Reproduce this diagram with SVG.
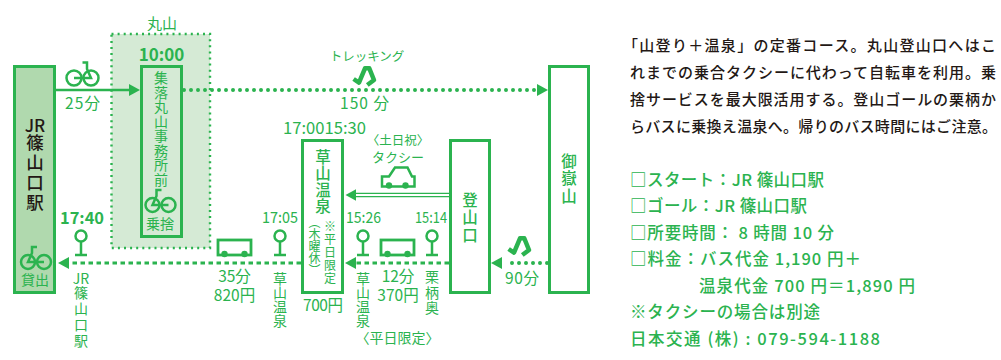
<svg xmlns="http://www.w3.org/2000/svg" width="1001" height="360" viewBox="0 0 1001 360">
<style>
text{font-family:"Noto Sans CJK JP","Noto Sans",sans-serif;fill:#2bb34f}
.c{text-anchor:middle}
.t{font-size:15.5px}
.s13{font-size:13px}
.b{font-weight:700}
.v{writing-mode:vertical-rl;text-orientation:mixed}
.vl{writing-mode:vertical-rl;font-size:14px}
.vk{writing-mode:vertical-rl;font-size:17.5px;letter-spacing:2.5px;fill:#231815;font-weight:500}
.vb{writing-mode:vertical-rl;font-size:15.5px;font-weight:500}
.k{fill:#231815;font-size:15px;font-weight:500}
.g{font-size:16.5px;font-weight:500}
.ln{fill:none;stroke:#2bb34f;stroke-width:2.500}
.dot{fill:none;stroke:#2bb34f;stroke-width:4;stroke-linecap:round;stroke-dasharray:0 7}
.dash{fill:none;stroke:#2bb34f;stroke-width:3;stroke-dasharray:4.500 3.500}
.ic{fill:none;stroke:#2bb34f;stroke-width:2.500}
.head{fill:#2bb34f}
</style>
<defs>
<g id="bike" class="ic"><circle cx="-8.500" cy="0" r="7.500"/><circle cx="8.500" cy="0" r="7.500"/><path d="M-8.500 0H8.500L4.500-9V-15.500H0"/></g>
<g id="bikeL" class="ic"><circle cx="-8" cy="0" r="7"/><circle cx="8" cy="0" r="7"/><path d="M8 0H-8L-4-9V-15H1"/></g>
<g id="stop" class="ic"><circle cx="0" cy="-8" r="5.500"/><path d="M0-2.500V11M-6 11H6"/></g>
<g id="bus"><rect x="-16.500" y="-15" width="33" height="15" fill="none" stroke="#2bb34f" stroke-width="2.800"/><circle cx="-10" cy="-1" r="3.200" fill="#2bb34f"/><circle cx="10" cy="-1" r="3.200" fill="#2bb34f"/></g>
<path id="walk" d="M-11.400 3L-6 6.600L0-7.700H4.300L9 4L2.300 9" fill="none" stroke="#2bb34f" stroke-width="4.500" stroke-linejoin="round"/>
</defs>

<g id="node-maruyama-area">
<rect x="111.500" y="34" width="98.500" height="214" fill="#d5ead5" stroke="#2bb34f" stroke-width="2.400" stroke-dasharray="2 4.100"/>
<text class="c" x="162" y="29" font-size="15">丸山</text>
<text class="c b" x="161.500" y="61" font-size="17">10:00</text>
</g>

<g id="connectors">
<path class="ln" d="M55 90H131"/>
<path class="head" d="M129 84L140 90L129 96Z"/>
<path class="dot" d="M184 90H538"/>
<path class="head" d="M537 84L548 90L537 96Z"/>
<path class="head" d="M356 189.300L345.500 195L356 200.700Z"/>
<path d="M355 193.300H449M355 196.700H449" fill="none" stroke="#2bb34f" stroke-width="1.300"/>
<path class="dot" d="M547 263H507"/>
<path class="head" d="M502 257L491 263L502 269Z"/>
<path class="dash" d="M449 263H352"/>
<path class="head" d="M356 257L345 263L356 269Z"/>
<path class="dash" d="M301 263H65"/>
<path class="head" d="M69 257L58 263L69 269Z"/>
</g>

<g id="node-jr">
<rect x="14.500" y="66.500" width="40" height="226" fill="#b0d9ae" stroke="#2bb34f" stroke-width="3"/>
<text class="c" x="35" y="132" font-size="17" font-weight="500" style="fill:#231815">JR</text>
<text class="vk" x="35" y="134">篠山口駅</text>
<use href="#bikeL" x="36" y="262"/>
<text class="c" x="35" y="285" font-size="14">貸出</text>
</g>

<g id="node-shuraku">
<rect x="141.500" y="66.500" width="40" height="170" fill="#d5ead5" stroke="#2bb34f" stroke-width="3"/>
<text class="v" x="161" y="71" font-size="14" letter-spacing=".5">集落丸山事務所前</text>
<use href="#bikeL" x="160.500" y="205"/>
<text class="c" x="160" y="229" font-size="14">乗捨</text>
</g>

<g id="node-kusayama">
<rect x="302.500" y="140.500" width="40" height="152" fill="#fff" stroke="#2bb34f" stroke-width="3"/>
<text class="vb" x="323" y="149" letter-spacing="1">草山温泉</text>
<text class="v" x="314.500" y="216" font-size="12">（木曜休）</text>
<text class="v" x="330" y="220" font-size="12" letter-spacing="1">※平日限定</text>
</g>

<g id="node-tozanguchi">
<rect x="450.500" y="140.500" width="39" height="152" fill="#fff" stroke="#2bb34f" stroke-width="3"/>
<text class="vb" x="470" y="192" letter-spacing="2">登山口</text>
</g>

<g id="node-mitake">
<rect x="549.500" y="66.500" width="39" height="226" fill="#fff" stroke="#2bb34f" stroke-width="3"/>
<text class="vb" x="569" y="153" letter-spacing="2">御嶽山</text>
</g>

<g id="labels">
<use href="#bike" x="82.500" y="78"/>
<text class="t" x="65" y="109" textLength="35">25分</text>
<text class="c" x="367" y="61" font-size="12.500">トレッキング</text>
<use href="#walk" x="365" y="76"/>
<text class="t" x="340" y="109" textLength="49">150 分</text>
<text x="283" y="134" font-size="16.500" textLength="83" lengthAdjust="spacingAndGlyphs">17:0015:30</text>
<text class="c" x="398" y="145" font-size="12.500">〈土日祝〉</text>
<text class="c" x="398" y="162" font-size="13">タクシー</text>
<path d="M382 186.500V176.500H389L395 167.500H407.500L412 176.500H414.500V186.500Z" fill="#fff" stroke="#2bb34f" stroke-width="2.500"/>
<circle cx="389" cy="185.500" r="3.200" class="head"/><circle cx="405.500" cy="185.500" r="3.200" class="head"/>
<use href="#stop" x="81" y="244"/>
<text class="b" x="60" y="224" font-size="16" textLength="44" lengthAdjust="spacingAndGlyphs">17:40</text>
<text class="c" x="81" y="284" font-size="14">JR</text>
<text class="vl" x="81" y="286" letter-spacing="2">篠山口駅</text>
<use href="#bus" x="234.500" y="255"/>
<text class="t c" x="234.500" y="282" font-size="15.500">35分<tspan x="234.500" dy="19">820円</tspan></text>
<text x="262" y="223" font-size="15.500" textLength="36" lengthAdjust="spacingAndGlyphs">17:05</text>
<use href="#stop" x="280" y="244"/>
<text class="vl" x="280" y="271.500">草山温泉</text>
<text x="346" y="223" font-size="15.500" textLength="35" lengthAdjust="spacingAndGlyphs">15:26</text>
<use href="#stop" x="363" y="244"/>
<text class="vl" x="363" y="271.500">草山温泉</text>
<use href="#bus" x="397.500" y="255"/>
<text class="t c" x="398" y="282">12分<tspan x="398" dy="19">370円</tspan></text>
<text x="415" y="223" font-size="15.500" textLength="32" lengthAdjust="spacingAndGlyphs">15:14</text>
<use href="#stop" x="432" y="244"/>
<text class="vl" x="432" y="270" letter-spacing="1.500">栗柄奥</text>
<text class="t" x="303" y="310.500" textLength="40">700円</text>
<text class="c" x="397.500" y="343" font-size="14">〈平日限定〉</text>
<use href="#walk" x="520" y="246"/>
<text class="t" x="505" y="284" textLength="34">90分</text>
</g>

<g id="description">
<text class="k" x="623" y="51" textLength="373">「山登り＋温泉」の定番コース。丸山登山口へはこ</text>
<text class="k" x="630" y="78" textLength="366">れまでの乗合タクシーに代わって自転車を利用。乗</text>
<text class="k" x="630" y="105" textLength="366">捨サービスを最大限活用する。登山ゴールの栗柄か</text>
<text class="k" x="630" y="132" textLength="367">らバスに乗換え温泉へ。帰りのバス時間にはご注意。</text>
<text class="g" x="630" y="186" textLength="194">□スタート：JR 篠山口駅</text>
<text class="g" x="630" y="212" textLength="177">□ゴール：JR 篠山口駅</text>
<text class="g" x="630" y="239" textLength="204">□所要時間： 8 時間 10 分</text>
<text class="g" x="630" y="265" textLength="231">□料金：バス代金 1,190 円＋</text>
<text class="g" x="699" y="292" textLength="216">温泉代金 700 円＝1,890 円</text>
<text class="g" x="630" y="318" textLength="190">※タクシーの場合は別途</text>
<text class="g" x="630" y="345" textLength="250">日本交通 (株) : 079-594-1188</text>
</g>
</svg>
